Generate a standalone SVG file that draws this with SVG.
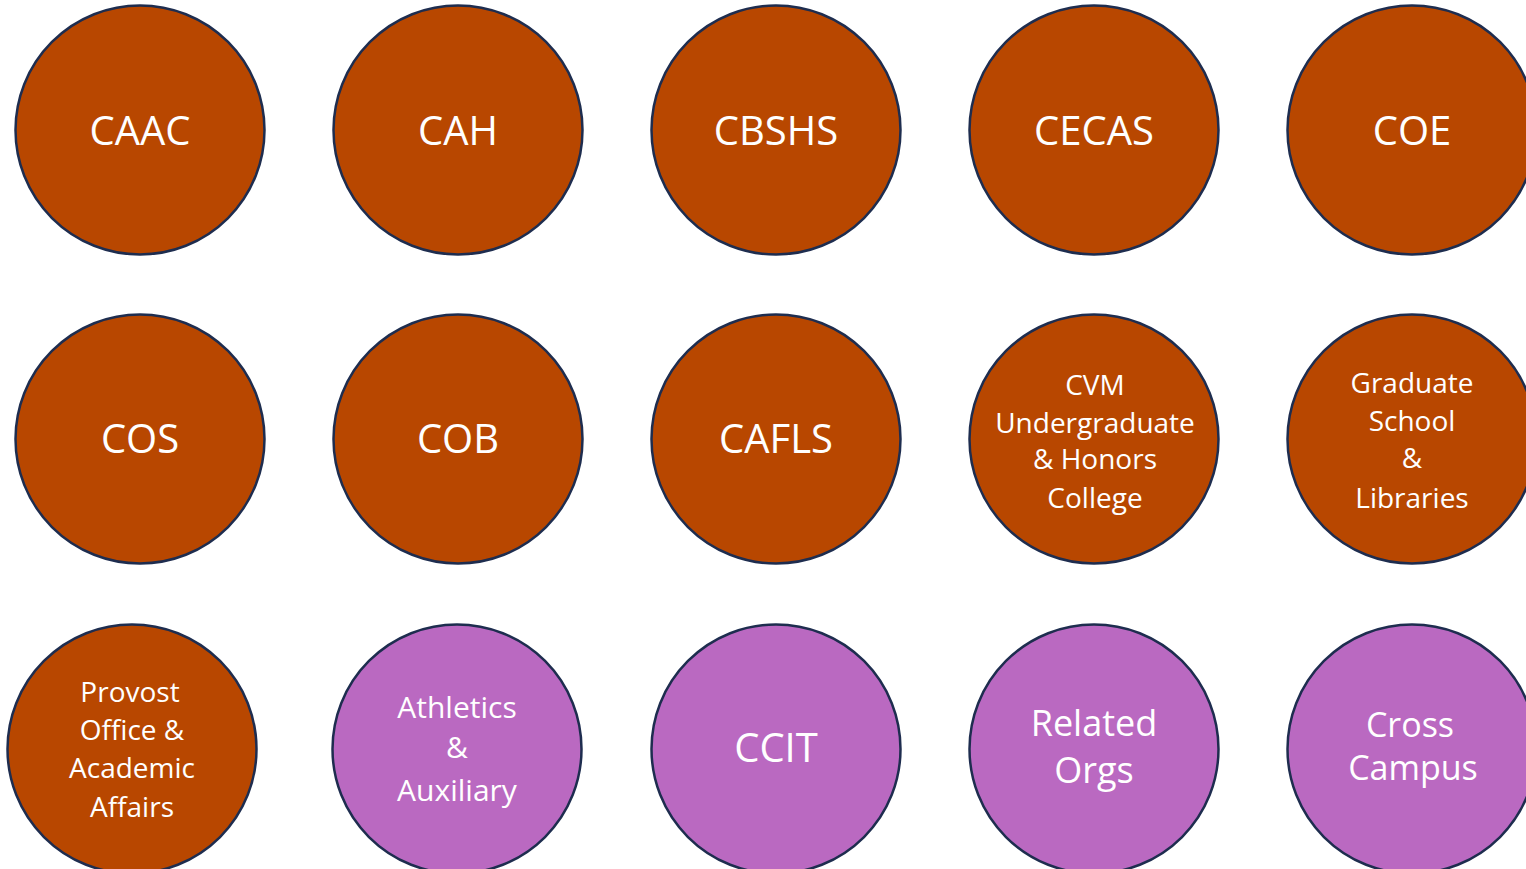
<svg xmlns="http://www.w3.org/2000/svg" width="1526" height="869" viewBox="0 0 1526 869">
<style>
.o{fill:#B84700;stroke:#1E2D4F;stroke-width:2.5}
.p{fill:#BA69C1;stroke:#1E2D4F;stroke-width:2.5}
text{font-family:"Open Sans","Liberation Sans",sans-serif;fill:#FFFFFF;text-anchor:middle}
.l{font-size:40px}
.m{font-size:28px}
.n{font-size:30px}
.r{font-size:36px}
.c{font-size:34px}
</style>
<rect width="1526" height="869" fill="#FFFFFF"/>
<g id="connectors"/>
<g id="caac"><circle class="o" cx="140" cy="130" r="124.5"/><text class="l" x="140" y="145">CAAC</text></g>
<g id="cah"><circle class="o" cx="458" cy="130" r="124.5"/><text class="l" x="458" y="145">CAH</text></g>
<g id="cbshs"><circle class="o" cx="776" cy="130" r="124.5"/><text class="l" x="776" y="145">CBSHS</text></g>
<g id="cecas"><circle class="o" cx="1094" cy="130" r="124.5"/><text class="l" x="1094" y="145">CECAS</text></g>
<g id="coe"><circle class="o" cx="1412" cy="130" r="124.5"/><text class="l" x="1412" y="145">COE</text></g>
<g id="cos"><circle class="o" cx="140" cy="439" r="124.5"/><text class="l" x="140" y="453">COS</text></g>
<g id="cob"><circle class="o" cx="458" cy="439" r="124.5"/><text class="l" x="458" y="453">COB</text></g>
<g id="cafls"><circle class="o" cx="776" cy="439" r="124.5"/><text class="l" x="776" y="453">CAFLS</text></g>
<g id="cvm"><circle class="o" cx="1094" cy="439" r="124.5"/><text class="m" x="1095"><tspan x="1095" y="395">CVM</tspan><tspan x="1095" y="433">Undergraduate</tspan><tspan x="1095" y="469">&amp; Honors</tspan><tspan x="1095" y="508">College</tspan></text></g>
<g id="grad"><circle class="o" cx="1412" cy="439" r="124.5"/><text class="m" x="1412"><tspan x="1412" y="393">Graduate</tspan><tspan x="1412" y="431">School</tspan><tspan x="1412" y="468">&amp;</tspan><tspan x="1412" y="508">Libraries</tspan></text></g>
<g id="provost"><circle class="o" cx="132" cy="749" r="124.5"/><text class="m" x="132"><tspan x="130" y="702">Provost</tspan><tspan x="132" y="740">Office &amp;</tspan><tspan x="132" y="778">Academic</tspan><tspan x="132" y="817">Affairs</tspan></text></g>
<g id="athletics"><circle class="p" cx="457" cy="749" r="124.5"/><text class="n" x="457"><tspan x="457" y="718">Athletics</tspan><tspan x="457" y="758">&amp;</tspan><tspan x="457" y="801">Auxiliary</tspan></text></g>
<g id="ccit"><circle class="p" cx="776" cy="749" r="124.5"/><text class="l" x="776" y="762">CCIT</text></g>
<g id="related"><circle class="p" cx="1094" cy="749" r="124.5"/><text class="r" x="1094"><tspan x="1094" y="736">Related</tspan><tspan x="1094" y="783">Orgs</tspan></text></g>
<g id="cross"><circle class="p" cx="1412" cy="749" r="124.5"/><text class="c" x="1412"><tspan x="1410" y="737">Cross</tspan><tspan x="1413" y="780">Campus</tspan></text></g>
</svg>
